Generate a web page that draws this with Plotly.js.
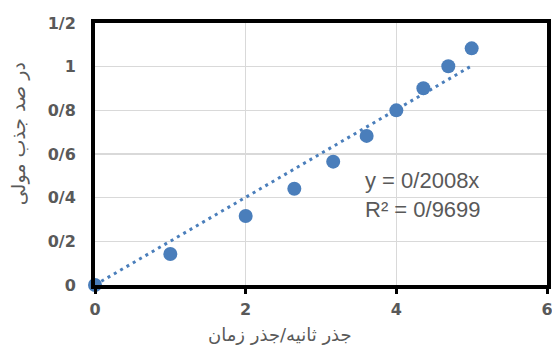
<!DOCTYPE html>
<html>
<head>
<meta charset="utf-8">
<script src="https://cdn.plot.ly/plotly-3.0.1.min.js"></script>
<style>html,body{margin:0;padding:0;background:#fff;}#chart{width:552px;height:347px;}</style>
</head>
<body>
<div id="chart"></div>
<script>
// Data
const sqrtTime = [0, 1, 2, 2.646, 3.162, 3.606, 4, 4.359, 4.69, 5];
const molarUptake = [0, 0.142, 0.316, 0.441, 0.565, 0.683, 0.800, 0.901, 1.002, 1.084];
const trendSlope = 0.2008;
const trendR2Text = "0/9699";
const trendSlopeText = "0/2008";
const trendX = [0, 5];
const xTickVals = [0, 2, 4, 6];
const xTickText = ["0", "2", "4", "6"];
const yTickVals = [0, 0.2, 0.4, 0.6, 0.8, 1.0, 1.2];
const yTickText = ["0", "0/2", "0/4", "0/6", "0/8", "1", "1/2"];
const xTitle = "جذر ثانیه/جذر زمان";
const yTitle = "در صد جذب مولی";

const blue = "#4a7ebb";
const trendY = trendX.map(x => trendSlope * x);

const traces = [
  {
    x: trendX, y: trendY, type: "scatter", mode: "lines",
    line: {color: blue, width: 3, dash: "3px,4.3px"},
    hoverinfo: "skip", cliponaxis: false
  },
  {
    x: sqrtTime, y: molarUptake, type: "scatter", mode: "markers",
    marker: {color: blue, size: 14},
    cliponaxis: false
  }
];

const axisCommon = {
  showline: true, linecolor: "#000", linewidth: 4, mirror: true,
  showgrid: true, gridcolor: "#d9d9d9", gridwidth: 1.5,
  zeroline: false, fixedrange: true, ticklabeloverflow: "allow",
  tickfont: {family: "DejaVu Sans, sans-serif", size: 16, color: "#595959", weight: "bold"}
};

const layout = {
  width: 552, height: 347,
  margin: {l: 95, r: 5, t: 23, b: 62},
  paper_bgcolor: "#fff", plot_bgcolor: "#fff",
  showlegend: false,
  xaxis: Object.assign({}, axisCommon, {
    range: [0, 6], tickvals: xTickVals, ticktext: xTickText,
    ticks: "outside", ticklen: 5, tickwidth: 3, tickcolor: "#000",
    ticklabelstandoff: 2
  }),
  yaxis: Object.assign({}, axisCommon, {
    range: [0, 1.2], tickvals: yTickVals, ticktext: yTickText,
    ticks: "", ticklabelstandoff: 12
  }),
  annotations: [
    {
      xref: "paper", yref: "paper", x: -0.17, y: 0.576, xanchor: "center", yanchor: "middle",
      text: yTitle, textangle: -90, showarrow: false,
      font: {family: "DejaVu Sans, sans-serif", size: 19, color: "#595959"}
    },
    {
      xref: "paper", yref: "paper", x: 0.41, y: -0.19, xanchor: "center", yanchor: "middle",
      text: xTitle, showarrow: false,
      font: {family: "DejaVu Sans, sans-serif", size: 18, color: "#595959"}
    },
    {
      xref: "paper", yref: "paper", x: 0.593, y: 0.345, xanchor: "left", yanchor: "middle",
      text: "y = " + trendSlopeText + "x<br>R² = " + trendR2Text, align: "left", showarrow: false,
      font: {family: "Liberation Sans, Arial, sans-serif", size: 22, color: "#595959"}
    }
  ]
};

Plotly.newPlot("chart", traces, layout, {displayModeBar: false, staticPlot: true});
</script>
</body>
</html>
